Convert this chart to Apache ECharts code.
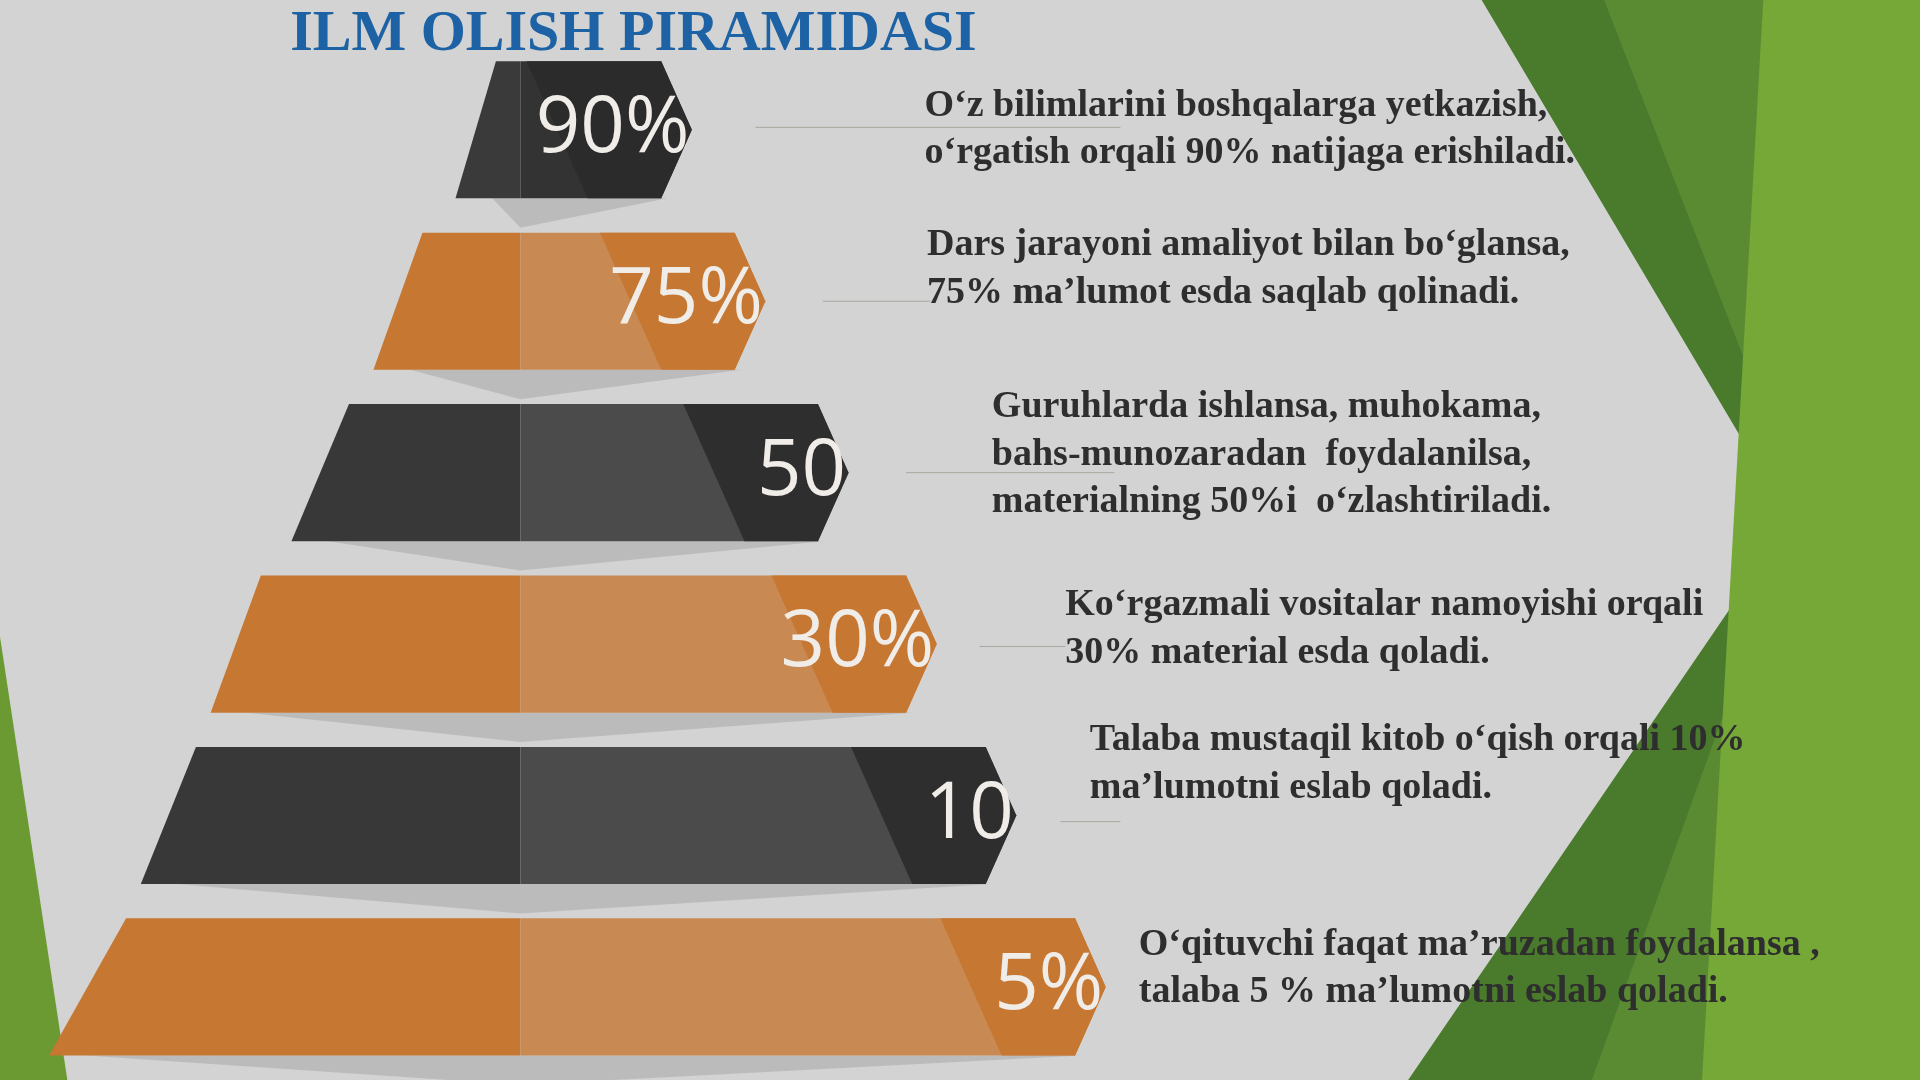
<!DOCTYPE html>
<html><head><meta charset="utf-8">
<script src="https://cdn.jsdelivr.net/npm/echarts@6/dist/echarts.min.js"></script>
<style>html,body{margin:0;padding:0;background:#d3d3d3}#c{width:1920px;height:1080px}</style>
</head><body><div id="c"></div>
<script>
const levels = ['90%','75%','50%','30%','10%','5%'];
const percentLabels = ['90%','75%','50','30%','10','5%'];
const leftTopExtent = [20, 80, 140, 212, 265, 322];
const leftBottomExtent = [53, 120, 187, 253, 310, 385];
const rightExtent = [115, 175, 243, 315, 380, 453];
const descriptions = [
  "O‘z bilimlarini boshqalarga yetkazish,\no‘rgatish orqali 90% natijaga erishiladi.",
  "Dars jarayoni amaliyot bilan bo‘glansa,\n75% ma’lumot esda saqlab qolinadi.",
  "Guruhlarda ishlansa, muhokama,\nbahs-munozaradan  foydalanilsa,\nmaterialning 50%i  o‘zlashtiriladi.",
  "Ko‘rgazmali vositalar namoyishi orqali\n30% material esda qoladi.",
  "Talaba mustaqil kitob o‘qish orqali 10%\nma’lumotni eslab qoladi.",
  "O‘qituvchi faqat ma’ruzadan foydalansa ,\ntalaba 5 % ma’lumotni eslab qoladi."
];
const S = 1920/1568;
const descPos = [[755,67],[757,181],[810,313],[870,475],[890,585],[930,752]];
const linePos = [[617,915,104],[672,760,246],[740,910,386],[800,870,528],[866,915,671]];

const palettes = [
  {l:'#3a3a3a', r:'#333333', t:'#2b2b2b'},
  {l:'#c67732', r:'#c88a52', t:'#c67732'},
  {l:'#383838', r:'#4b4b4b', t:'#2e2e2e'},
  {l:'#c67732', r:'#c88a52', t:'#c67732'},
  {l:'#383838', r:'#4b4b4b', t:'#2e2e2e'},
  {l:'#c67732', r:'#c88a52', t:'#c67732'}
];

const data = levels.map((c,i)=>[i, leftTopExtent[i], leftBottomExtent[i], rightExtent[i]]);

function renderItem(params, api){
  const i = api.value(0);
  const c = api.coord([0,i]);
  const h = api.size([0,1])[1]*0.8;
  const top = c[1]-h/2, bot = c[1]+h/2, mid = c[1];
  const cx = c[0];
  const xlt = api.coord([-api.value(1), i])[0];
  const xlb = api.coord([-api.value(2), i])[0];
  const xr = api.coord([api.value(3), i])[0];
  const xtip = api.coord([api.value(3)+25, i])[0];
  const unit = api.coord([1,i])[0]-cx;
  const p = palettes[i];
  const dark0 = xr - 110*unit, dark1 = xr - 60*unit;
  const children = [
    {type:'polygon', shape:{points:[[xlb+30*unit,bot],[xtip-20*unit,bot],[cx,bot+24*unit]]}, style:{fill:'rgba(0,0,0,0.11)'}},
    {type:'polygon', shape:{points:[[xlt,top],[cx,top],[cx,bot],[xlb,bot]]}, style:{fill:p.l}},
    {type:'polygon', shape:{points:[[cx,top],[xr,top],[xtip,mid],[xr,bot],[cx,bot]]}, style:{fill:p.r}},
    {type:'polygon', shape:{points:[[dark0,top],[xr,top],[xtip,mid],[xr,bot],[dark1,bot]]}, style:{fill:p.t}},
    {type:'text', style:{x:xtip-2*unit, y:mid, text:percentLabels[i], align:'right', verticalAlign:'middle',
      fill:'#f0ece8', font:'400 '+Math.round(64*unit)+'px "Open Sans", sans-serif'}}
  ];
  return {type:'group', children};
}

const graphics = [
  {type:'polygon', z:-10, shape:{points:[[1210*S,0],[1568*S,0],[1568*S,882*S],[1150*S,882*S],[1462*S,425*S]]}, style:{fill:'#4a7a2c'}},
  {type:'polygon', z:-9, shape:{points:[[1310*S,0],[1440*S,0],[1400*S,882*S],[1300*S,882*S],[1470*S,410*S]]}, style:{fill:'rgba(110,160,60,0.45)'}},
  {type:'polygon', z:-9, shape:{points:[[1440*S,0],[1568*S,0],[1568*S,882*S],[1390*S,882*S]]}, style:{fill:'#76a838'}},
  {type:'polygon', z:-8, shape:{points:[[0,520*S],[55*S,882*S],[0,882*S]]}, style:{fill:'#6b9a32'}},
  {type:'text', left:237*S, top:5*S, style:{text:'ILM OLISH PIRAMIDASI', fill:'#1c62a4', font:'bold '+Math.round(47.5*S)+'px "Liberation Serif", serif'}}
];
descriptions.forEach((d,i)=>{
  graphics.push({type:'text', left:descPos[i][0]*S, top:descPos[i][1]*S,
    style:{text:d, fill:'#2e2e2e', lineHeight:39*S, font:'bold '+Math.round(30.8*S)+'px "Liberation Serif", serif'}});
});
linePos.forEach(l=>{
  graphics.push({type:'line', z:-1, shape:{x1:l[0]*S,y1:l[2]*S,x2:l[1]*S,y2:l[2]*S}, style:{stroke:'#a8a8a0', lineWidth:1}});
});

const chart = echarts.init(document.getElementById('c'));
chart.setOption({
  backgroundColor:'#d3d3d3',
  animation:false,
  graphic: graphics,
  grid:{left:0, right:0, top:36*S, bottom:6*S},
  xAxis:{type:'value', min:-425, max:1143, show:false},
  yAxis:{type:'category', data:levels, inverse:true, show:false},
  series:[{type:'custom', renderItem, data, encode:{x:[1,2,3], y:0}, clip:false}]
});
</script></body></html>
